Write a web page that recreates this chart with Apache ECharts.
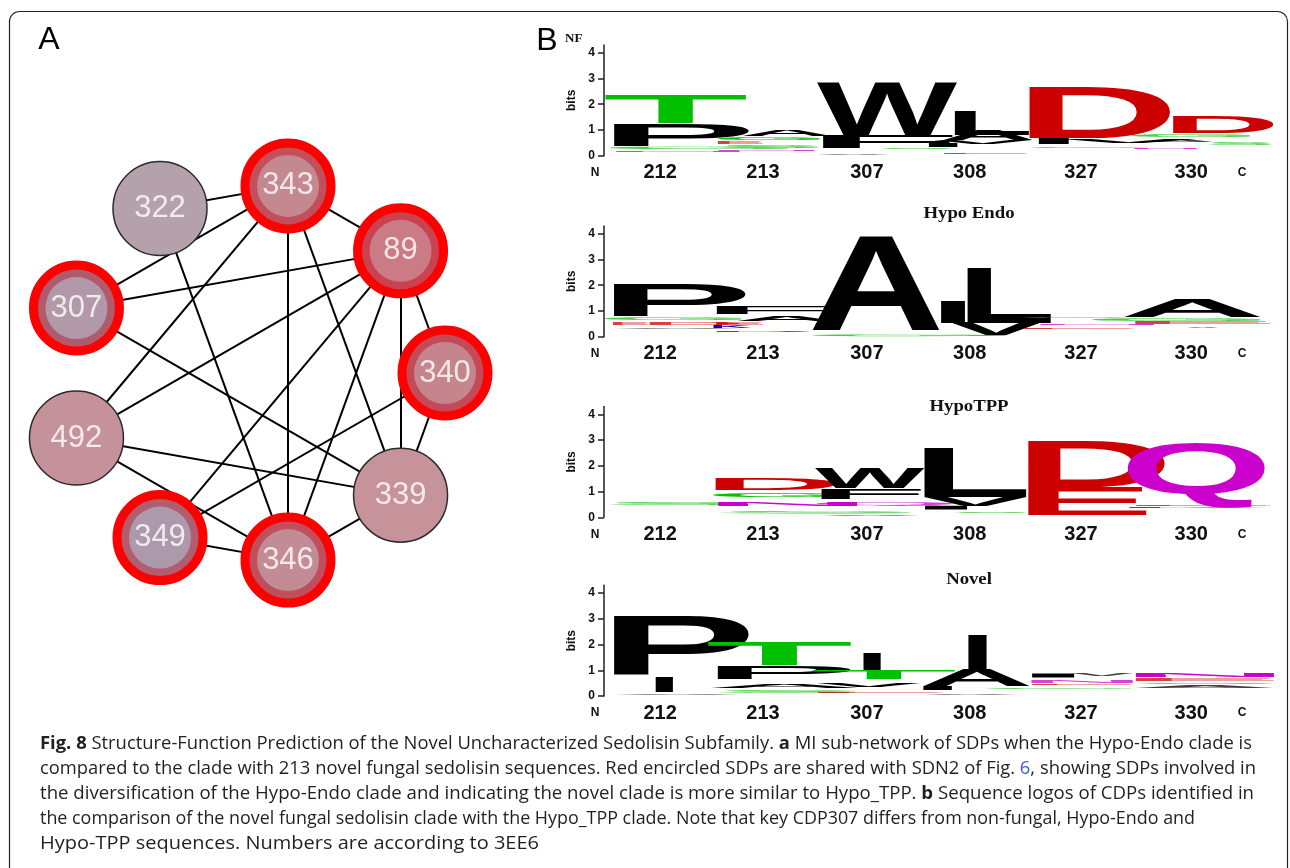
<!DOCTYPE html>
<html><head><meta charset="utf-8">
<script src="https://cdn.jsdelivr.net/npm/echarts@6/dist/echarts.min.js"></script>
<style>html,body{margin:0;padding:0;background:#fff}#c{width:1290px;height:868px}</style>
</head><body><div id="c"></div>
<script>
// ================= DATA =================
// Panel A: MI sub-network (nodes in their order around the circle)
const nodeNames  = ['343','89','340','339','346','349','492','307','322'];
const nodeAngle  = [10, 50, 90, 130, 170, 210, 250, 290, 330]; // position on the circle, degrees clockwise from top
const nodeShared = [1, 1, 1, 0, 1, 1, 0, 1, 0];                // red-encircled (shared with SDN2)
const edges = [
  ['322','343'],['343','307'],['322','346'],['343','89'],['343','492'],
  ['343','346'],['343','339'],['89','307'],['89','492'],['89','349'],
  ['89','346'],['89','339'],['89','340'],['340','339'],['340','349'],
  ['307','339'],['492','339'],['492','346'],['349','346'],['346','339']
];

// Panel B: sequence logos
const residues   = ['212','213','307','308','327','330'];
const yTicks     = [0, 1, 2, 3, 4];
const logoTitles = ['NF', 'Hypo Endo', 'HypoTPP', 'Novel'];
// each letter: [residue letter, column start, column end, bottom bits, top bits]
const logoNF = [
  ['N',0.10,1.30,0.15,0.20],['G',0.05,1.75,0.26,0.36],['P',0.08,1.38,0.37,1.22],['T',0.01,1.36,1.26,2.34],
  ['N',1.07,2.00,0.18,0.23],['S',1.10,2.04,0.30,0.38],['E',1.07,1.50,0.47,0.55],['G',1.07,2.04,0.60,0.72],['A',1.30,2.15,0.78,1.05],
  ['V',2.01,2.70,0.04,0.10],['S',2.60,3.30,0.25,0.30],['F',2.05,3.30,0.30,0.80],['W',2.01,3.34,0.80,2.86],
  ['E',3.20,4.00,0.08,0.13],['I',3.05,3.35,0.35,0.50],['V',3.10,4.05,0.45,0.60],['A',3.20,4.05,0.60,0.98],['L',3.30,4.02,0.80,1.72],
  ['G',4.00,5.10,0.30,0.36],['I',4.09,4.40,0.45,0.68],['V',4.30,5.60,0.50,0.62],['D',4.00,5.36,0.68,2.67],
  ['N',5.00,5.60,0.27,0.31],['S',5.70,6.30,0.42,0.50],['A',5.10,5.75,0.55,0.66],['G',4.98,6.10,0.72,0.82],['D',5.36,6.33,0.87,1.50]
];
const logoHypoEndo = [
  ['V',0.10,1.30,0.28,0.33],['E',0.08,0.42,0.46,0.54],['D',0.42,1.30,0.44,0.52],['G',0.00,1.30,0.66,0.74],['P',0.08,1.35,0.78,2.05],
  ['R',1.05,2.00,0.20,0.26],['K',1.03,1.40,0.33,0.45],['E',1.05,1.50,0.45,0.56],['A',1.25,2.20,0.60,0.80],['F',1.05,2.10,0.87,1.15],
  ['G',1.96,3.80,0.02,0.10],['A',1.96,3.17,0.26,3.93],
  ['V',3.25,4.15,0.05,0.55],['I',3.17,3.42,0.55,1.40],['L',3.42,4.23,0.55,2.70],
  ['E',3.95,5.00,0.28,0.33],['N',4.10,5.20,0.44,0.50],['G',3.95,4.93,0.72,0.78],
  ['V',5.50,5.80,0.34,0.37],['E',5.00,6.30,0.48,0.55],['G',4.60,6.20,0.62,0.70],['A',4.90,6.20,0.75,1.43]
];
const logoHypoTPP = [
  ['S',0.04,1.30,0.46,0.54],
  ['S',1.06,2.90,0.15,0.24],['N',1.06,2.40,0.45,0.60],['G',1.03,2.20,0.80,0.95],['D',1.04,2.20,1.06,1.49],
  ['V',2.04,3.00,0.05,0.10],['Q',2.00,3.30,0.46,0.56],['F',2.04,3.00,0.70,1.10],['W',1.99,3.03,1.13,1.94],
  ['S',3.30,4.00,0.18,0.24],['I',3.01,3.45,0.30,0.45],['V',3.01,4.00,0.45,0.80],['L',3.01,4.00,0.80,2.70],
  ['E',3.99,5.12,0.09,1.19],['D',3.99,5.31,1.19,3.00],
  ['K',4.94,6.30,0.35,0.42],['E',5.00,6.30,0.42,0.48],['Q',4.94,6.24,0.35,2.87]
];
const logoNovel = [
  ['V',0.10,1.30,0.04,0.09],['I',0.48,0.66,0.17,0.77],['P',0.08,1.38,0.77,3.09],
  ['S',1.06,2.40,0.10,0.20],['A',1.00,2.40,0.30,0.45],['P',1.06,2.34,0.65,1.14],['T',0.98,2.35,1.20,2.08],
  ['E',2.00,3.20,0.10,0.16],['V',2.00,3.00,0.35,0.50],['T',1.97,3.33,0.65,1.00],['I',2.44,2.62,1.00,1.64],
  ['V',3.00,3.90,0.05,0.10],['I',3.00,3.30,0.25,0.40],['A',3.01,4.02,0.40,1.05],['I',3.43,3.62,1.00,2.38],
  ['G',3.60,5.00,0.28,0.33],['E',4.02,5.00,0.44,0.50],['N',4.02,5.00,0.52,0.62],['I',4.02,4.46,0.72,0.88],['V',4.40,5.00,0.78,0.85],
  ['A',5.00,6.33,0.30,0.38],['S',5.00,6.33,0.45,0.50],['E',5.00,6.33,0.58,0.66],['N',5.00,6.33,0.75,0.92]
];
const logos = [logoNF, logoHypoEndo, logoHypoTPP, logoNovel];

const captionLines = [
  [['b','Fig. 8'],['n',' Structure-Function Prediction of the Novel Uncharacterized Sedolisin Subfamily. '],['b','a'],['n',' MI sub-network of SDPs when the Hypo-Endo clade is']],
  [['n','compared to the clade with 213 novel fungal sedolisin sequences. Red encircled SDPs are shared with SDN2 of Fig. '],['l','6'],['n',', showing SDPs involved in']],
  [['n','the diversification of the Hypo-Endo clade and indicating the novel clade is more similar to Hypo_TPP. '],['b','b'],['n',' Sequence logos of CDPs identified in']],
  [['n','the comparison of the novel fungal sedolisin clade with the Hypo_TPP clade. Note that key CDP307 differs from non-fungal, Hypo-Endo and']],
  [['n','Hypo-TPP sequences. Numbers are according to 3EE6']]
];

// ================= STYLE / LAYOUT =================
const ringColor = ['#c24f5b','#c8434f','#c44a57','#c6939b','#c04e5c','#b15d70','#c5919a','#b05b6c','#b5a1ac'];
const fillColor = ['#c4969f','#cc8a93','#c5939b','#c6939b','#c09ca4','#aca9bb','#c5919a','#b1a9b9','#b5a1ac'];
const aaColor = {A:'#000',V:'#000',L:'#000',I:'#000',P:'#000',W:'#000',F:'#000',M:'#000',
  G:'#00c000',S:'#00c000',T:'#00c000',Y:'#00c000',C:'#00c000',N:'#cc00cc',Q:'#cc00cc',
  K:'#0000cc',R:'#0000cc',H:'#0000cc',D:'#cc0000',E:'#cc0000'};
const labelPos = [0.53, 1.50, 2.48, 3.45, 4.50, 5.54];
const endPos = [-0.085, 6.02];
const gridZero = [155.7, 336.7, 517.3, 696.0];
const bitPx = 25.75, yMax = 4.3, gridLeft = 604, unitPx = 106, xMax = 6.4;
const capLineEnd = [1252, 1256, 1254, 1195, 539];

const LFONT = 'bold 100px "Liberation Sans", Arial, sans-serif';
const mctx = document.createElement('canvas').getContext('2d');
const metricCache = {};
function metric(ch){
  if (!metricCache[ch]) {
    mctx.font = LFONT; mctx.textBaseline = 'middle'; mctx.textAlign = 'left';
    const m = mctx.measureText(ch);
    metricCache[ch] = {l: -m.actualBoundingBoxLeft, t: -m.actualBoundingBoxAscent,
      w: m.actualBoundingBoxLeft + m.actualBoundingBoxRight, h: m.actualBoundingBoxAscent + m.actualBoundingBoxDescent};
  }
  return metricCache[ch];
}
function nearestIdx(arr, v){ let b=0; arr.forEach((a,i)=>{ if (Math.abs(a-v) < Math.abs(arr[b]-v)) b=i; }); return b; }

const capFont = '18px "Open Sans", sans-serif', capBold = 'bold 18px "Open Sans", sans-serif';
function segWidth(segs){ let w=0; segs.forEach(s=>{ mctx.font = s[0]==='b'?capBold:capFont; w += mctx.measureText(s[1]).width; }); return w; }

const grids = [], xAxes = [], yAxes = [], series = [];
logos.forEach((letters, gi) => {
  grids.push({left: gridLeft, top: gridZero[gi] - yMax*bitPx, width: xMax*unitPx, height: yMax*bitPx});
  xAxes.push({type:'value', gridIndex: gi, min: 0, max: xMax,
    axisLine:{show:false}, axisTick:{show:false}, splitLine:{show:false},
    axisLabel:{customValues: labelPos, formatter: v => residues[nearestIdx(labelPos, v)], margin: 7,
      fontSize: 20, fontWeight:'bold', fontFamily:'"Liberation Sans Narrow", "Liberation Sans", sans-serif', color:'#111'}});
  yAxes.push({type:'value', gridIndex: gi, min: 0, max: yMax,
    axisLine:{show:true, lineStyle:{color:'#222', width:1.5}},
    axisTick:{show:true, length:6, customValues: yTicks, lineStyle:{color:'#222', width:1.5}},
    axisLabel:{customValues: yTicks, margin: 9, color:'#111', fontWeight:'bold', fontSize: 12, fontFamily:'"Liberation Sans", sans-serif'},
    splitLine:{show:false},
    name:'bits', nameLocation:'middle', nameGap: 14,
    nameTextStyle:{fontWeight:'bold', fontSize: 12, color:'#111', fontFamily:'"Liberation Sans", sans-serif'}});
  series.push({type:'custom', xAxisIndex: gi, yAxisIndex: gi, clip:false, silent:true,
    data: letters.map(d => [d[1], d[3], d[2], d[4]]),
    encode:{x:[0,2], y:[1,3]},
    renderItem: (params, api) => {
      const ch = letters[params.dataIndex][0];
      const p0 = api.coord([api.value(0), api.value(3)]);
      const p1 = api.coord([api.value(2), api.value(1)]);
      const m = metric(ch);
      const sx = (p1[0]-p0[0]) / m.w, sy = (p1[1]-p0[1]) / m.h;
      const thin = (api.value(3) - api.value(1)) < 0.12;
      return {type:'text', x: p0[0] - m.l*sx, y: p0[1] - m.t*sy, scaleX: sx, scaleY: sy,
        style:{text: ch, x:0, y:0, font: LFONT, fill: aaColor[ch], align:'left', verticalAlign:'middle', opacity: thin ? 0.75 : 1}};
    }});
  series.push({type:'custom', xAxisIndex: gi, yAxisIndex: gi, clip:false, silent:true,
    data: endPos.map(v => [v, 0]),
    renderItem: (params, api) => {
      const p = api.coord([api.value(0), api.value(1)]);
      return {type:'text', x: p[0], y: p[1] + 17,
        style:{text: params.dataIndex === 0 ? 'N' : 'C', x:0, y:0, font:'bold 12px "Liberation Sans", sans-serif', fill:'#111', align:'center', verticalAlign:'middle'}};
    }});
});

// network
series.push({type:'graph', coordinateSystem:'polar', polarIndex:0, layout:'none', silent:true, z:2,
  data: nodeNames.map((n,i) => ({name:n, value:[1, nodeAngle[i]], symbol:'circle', symbolSize: nodeShared[i] ? 86 : 94,
    itemStyle: nodeShared[i] ? {color: ringColor[i], borderColor:'#ff0000', borderWidth:9}
                             : {color: fillColor[i], borderColor:'#2b2b2b', borderWidth:1.5}})),
  links: edges.map(e => ({source:e[0], target:e[1]})),
  lineStyle:{color:'#000', width:2, opacity:1, curveness:0},
  label:{show:false}, emphasis:{disabled:true}});
series.push({type:'scatter', coordinateSystem:'polar', polarIndex:0, silent:true, z:3, symbolSize:62,
  data: nodeNames.map((n,i) => nodeShared[i] ? {value:[1, nodeAngle[i]], itemStyle:{color: fillColor[i]}} : null).filter(Boolean)});
series.push({type:'scatter', coordinateSystem:'polar', polarIndex:0, silent:true, z:4, symbolSize:1,
  itemStyle:{color:'transparent'},
  data: nodeNames.map((n,i) => ({name:n, value:[1, nodeAngle[i]]})),
  label:{show:true, position:'inside', formatter: p => p.name, color:'#fff', fontSize:31, fontFamily:'"Liberation Sans", sans-serif'}});

// graphic texts
const graphic = [
  {type:'rect', silent:true, shape:{x:9.5, y:11.5, width:1278, height:900, r:10}, style:{fill:'none', stroke:'#222', lineWidth:1.2}},
  {type:'text', x:49, y:40, style:{text:'A', font:'32px "Liberation Sans", sans-serif', fill:'#000', align:'center', verticalAlign:'middle'}},
  {type:'text', x:547, y:41, style:{text:'B', font:'32px "Liberation Sans", sans-serif', fill:'#000', align:'center', verticalAlign:'middle'}},
  {type:'text', x:565, y:39, style:{text: logoTitles[0], font:'bold 13px "Liberation Serif", serif', fill:'#111', align:'left', verticalAlign:'middle'}}
];
[213.7, 406.7, 580].forEach((y, k) => graphic.push({type:'text', x:969, y:y, scaleX:1.17,
  style:{text: logoTitles[k+1], font:'bold 16px "Liberation Serif", serif', fill:'#111', align:'center', verticalAlign:'middle'}}));
captionLines.forEach((segs, i) => {
  graphic.push({type:'text', x:40, y:744 + 25*i, scaleX: (capLineEnd[i] - 40) / segWidth(segs),
    style:{text: segs.map(s => '{' + s[0] + '|' + s[1] + '}').join(''),
      font: capFont, fill:'#231f20', align:'left', verticalAlign:'middle',
      rich:{b:{font: capBold, fill:'#231f20'}, n:{font: capFont, fill:'#231f20'}, l:{font: capFont, fill:'#3a5bd0'}}}});
});

const chart = echarts.init(document.getElementById('c'), null, {renderer:'canvas'});
chart.setOption({
  animation:false, backgroundColor:'#fff',
  polar:{center:[255, 373], radius:190},
  angleAxis:{type:'value', min:0, max:360, startAngle:90, clockwise:true, show:false},
  radiusAxis:{type:'value', min:0, max:1, show:false},
  grid: grids, xAxis: xAxes, yAxis: yAxes, series: series, graphic: graphic
});
</script></body></html>
